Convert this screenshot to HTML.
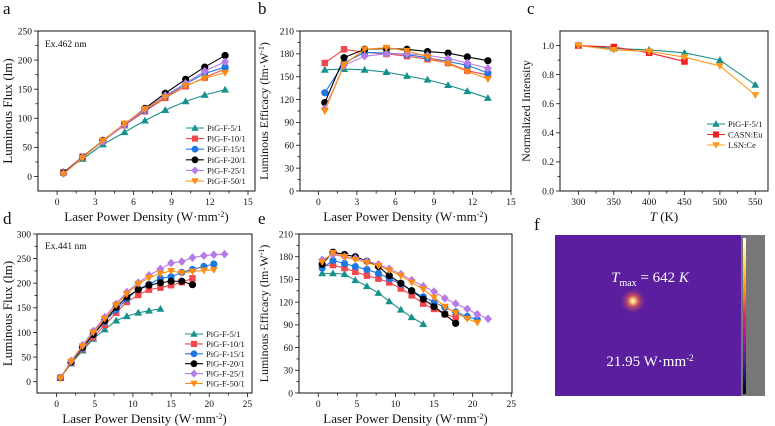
<!DOCTYPE html>
<html><head><meta charset="utf-8">
<style>
html,body{margin:0;padding:0;background:#fff;}
svg{display:block;}
svg text{font-family:"Liberation Serif","DejaVu Serif",serif;}
</style></head>
<body>
<svg id="fig" width="775" height="426" viewBox="0 0 775 426" xmlns="http://www.w3.org/2000/svg" font-family="Liberation Serif, serif">
<rect x="0" y="0" width="775" height="426" fill="#fff"/>
<defs>
<radialGradient id="hot" cx="0.5" cy="0.5" r="0.5">
<stop offset="0" stop-color="#ffffff"/>
<stop offset="0.15" stop-color="#ffd070"/>
<stop offset="0.4" stop-color="#e05a5a" stop-opacity="0.8"/>
<stop offset="1" stop-color="#5b1e9e" stop-opacity="0"/>
</radialGradient>
<linearGradient id="cbar" x1="0" y1="0" x2="0" y2="1">
<stop offset="0" stop-color="#ffffff"/>
<stop offset="0.15" stop-color="#ffe060"/>
<stop offset="0.35" stop-color="#ff8a10"/>
<stop offset="0.5" stop-color="#e8206a"/>
<stop offset="0.65" stop-color="#b010b0"/>
<stop offset="0.8" stop-color="#4a1ea0"/>
<stop offset="0.92" stop-color="#101060"/>
<stop offset="1" stop-color="#000000"/>
</linearGradient>
</defs>
</svg>
<script>
// ---------- data ----------
const seriesNames = ["PiG-F-5/1","PiG-F-10/1","PiG-F-15/1","PiG-F-20/1","PiG-F-25/1","PiG-F-50/1"];
const seriesColors = ["#17918b","#f2474c","#1f77e4","#000000","#b57ce8","#ff8c10"];
const seriesMarkers = ["tri","sq","circ","circ","dia","tridown"];

const xA = [0.5,2.0,3.6,5.3,6.9,8.5,10.1,11.6,13.2];
const fluxA5  = [8,30,55,76,96,114,129,140,149];
const fluxA10 = [7,34,61,88,112,135,155,170,185];
const fluxA15 = [6,33,61,89,114,137,159,177,188];
const fluxA20 = [6,33,62,90,117,143,167,188,208];
const fluxA25 = [5,33,60,89,115,139,160,181,197];
const fluxA50 = [4,32,62,91,116,136,156,169,178];

const effB5  = [159,160,159,156,151,146,139,131,122];
const effB10 = [168,186,182,180,177,173,168,158,152];
const effB15 = [129,168,182,181,179,175,170,165,155];
const effB20 = [116,175,186,187,186,183,181,176,171];
const effB25 = [108,165,177,180,180,178,174,168,161];
const effB50 = [105,166,186,188,184,176,167,157,147];

const tempC = [300,350,400,450,500,550];
const intPiG  = [1.0,0.98,0.97,0.95,0.90,0.73];
const intCASN = [1.0,0.99,0.95,0.89];
const intLSN  = [1.0,0.97,0.96,0.92,0.86,0.66];

const xD = [0.5,1.9,3.4,4.8,6.3,7.8,9.2,10.7,12.1,13.6,15.0,16.4,17.8,19.3,20.6,22.0];
const fluxD5  = [8,37,63,87,106,124,133,140,144,148];
const fluxD10 = [8,38,66,90,115,140,162,176,187,191,196,202,210];
const fluxD15 = [8,39,68,95,122,146,168,188,198,210,213,222,228,234,239];
const fluxD20 = [8,40,70,96,124,151,172,187,196,201,204,204,197];
const fluxD25 = [8,42,74,103,131,158,182,201,216,229,241,244,252,256,258,259];
const fluxD50 = [7,41,72,100,128,156,178,199,211,220,225,221,224,226,227];

const effE5  = [158,158,157,149,141,132,121,110,100,91];
const effE10 = [168,169,165,160,155,151,146,138,129,118,111,104,100];
const effE15 = [165,175,171,167,163,158,151,144,135,127,120,113,107,101,97];
const effE20 = [170,186,183,180,174,167,155,145,135,124,114,104,92];
const effE25 = [176,183,180,178,174,170,164,157,149,141,134,125,118,111,104,98];
const effE50 = [173,185,180,176,172,168,162,155,146,137,126,114,106,98,93];

const ticksA_x = [0,3,6,9,12,15];
const ticksA_y = [0,50,100,150,200,250];
const ticksB_y = [0,30,60,90,120,150,180,210];
const ticksC_x = [300,350,400,450,500,550];
const ticksC_y = [0.0,0.2,0.4,0.6,0.8,1.0];
const ticksD_x = [0,5,10,15,20,25];
const ticksD_y = [0,50,100,150,200,250,300];

// ---------- helpers ----------
const svg = document.getElementById('fig');
const NS = "http://www.w3.org/2000/svg";
function mk(tag, attrs, parent){
  const e = document.createElementNS(NS, tag);
  for (const k in attrs) e.setAttribute(k, attrs[k]);
  if (tag==='text') e.setAttribute('font-family','Liberation Serif, serif');
  (parent||svg).appendChild(e);
  return e;
}
function marker(g, type, x, y, color, r){
  let e;
  if (type==="circ") e = mk('circle',{cx:x,cy:y,r:r,fill:color},g);
  else if (type==="sq") e = mk('rect',{x:x-r*0.9,y:y-r*0.9,width:r*1.8,height:r*1.8,fill:color},g);
  else if (type==="tri") e = mk('polygon',{points:`${x},${y-r*1.1} ${x-r*1.1},${y+r*0.8} ${x+r*1.1},${y+r*0.8}`,fill:color},g);
  else if (type==="tridown") e = mk('polygon',{points:`${x},${y+r*1.1} ${x-r*1.1},${y-r*0.8} ${x+r*1.1},${y-r*0.8}`,fill:color},g);
  else e = mk('polygon',{points:`${x},${y-r*1.2} ${x+r*1.1},${y} ${x},${y+r*1.2} ${x-r*1.1},${y}`,fill:color},g);
  
  
  return e;
}

function panel(cfg){
  const g = mk('g',{});
  
  
  const {x0,y0,x1,y1,xmin,xmax,ymin,ymax} = cfg;
  const sx = v => x0 + (v-xmin)/(xmax-xmin)*(x1-x0);
  const sy = v => y1 - (v-ymin)/(ymax-ymin)*(y1-y0);
  const L = mk('text',{x:cfg.lx,y:cfg.ly,'font-size':17,fill:'#111'},g);
  L.textContent = cfg.letter;
  
  
  const xt = cfg.xticks;
  const xs = xt[1]-xt[0];
  for (let i=0;i<xt.length;i++){
    const px = sx(xt[i]);
    const t = mk('line',{x1:px,y1:y1,x2:px,y2:y1+4,stroke:'#111','stroke-width':0.8},g);
    
    
    const tl = mk('text',{x:px,y:y1+14,'font-size':9.5,'text-anchor':'middle',fill:'#111'},g);
    tl.textContent = xt[i];
    
    
    const mv = xt[i]+xs/2;
    if (mv<xmax){
      const m = mk('line',{x1:sx(mv),y1:y1,x2:sx(mv),y2:y1+2.5,stroke:'#111','stroke-width':0.8},g);
      
      
    }
  }
  const yt = cfg.yticks;
  const ys = yt[1]-yt[0];
  for (let i=0;i<yt.length;i++){
    const py = sy(yt[i]);
    const t = mk('line',{x1:x0-4,y1:py,x2:x0,y2:py,stroke:'#111','stroke-width':0.8},g);
    
    
    const tl = mk('text',{x:x0-6,y:py+3.3,'font-size':9.5,'text-anchor':'end',fill:'#111'},g);
    tl.textContent = cfg.yfmt ? cfg.yfmt(yt[i]) : yt[i];
    
    
    const mv = yt[i]+ys/2;
    if (mv<ymax){
      const m = mk('line',{x1:x0-2.5,y1:sy(mv),x2:x0,y2:sy(mv),stroke:'#111','stroke-width':0.8},g);
      
      
    }
  }
  const fr = mk('rect',{x:x0,y:y0,width:x1-x0,height:y1-y0,fill:'none',stroke:'#111','stroke-width':1},g);
  
  
  const xtl = mk('text',{x:(x0+x1)/2,y:y1+30,'font-size':13,'text-anchor':'middle',fill:'#111'},g);
  xtl.innerHTML = cfg.xtitle;
  
  
  const ytl = mk('text',{x:0,y:0,'font-size':cfg.ytsize||13,'text-anchor':'middle',fill:'#111',transform:`translate(${cfg.ytx},${(y0+y1)/2}) rotate(-90)`},g);
  ytl.innerHTML = cfg.ytitle;
  
  
  cfg.series.forEach((s,si)=>{
    const sg = mk('g',{},g);
    
    
    const pts = s.vals.map((v,i)=>sx(s.xs[i])+','+sy(v)).join(' ');
    const pl = mk('polyline',{points:pts,fill:'none',stroke:s.color,'stroke-width':1.1},sg);
    
    
    s.vals.forEach((v,i)=>marker(sg,s.marker,sx(s.xs[i]),sy(v),s.color,cfg.mr||3.6));
  });
  if (cfg.legend){
    const lg = mk('g',{},g);
    
    
    cfg.series.forEach((s,i)=>{
      const ly = cfg.legend.y + i*cfg.legend.dy;
      const eg = mk('g',{},lg);
      
      
      mk('line',{x1:cfg.legend.x,y1:ly,x2:cfg.legend.x+18,y2:ly,stroke:s.color,'stroke-width':1.1},eg);
      marker(eg,s.marker,cfg.legend.x+9,ly,s.color,3.4);
      const t = mk('text',{x:cfg.legend.x+21,y:ly+3,'font-size':8.5,fill:'#111'},eg);
      t.textContent = s.name;
      
      
    });
  }
  if (cfg.note){
    const n = mk('text',{x:cfg.note.x,y:cfg.note.y,'font-size':9.5,fill:'#111'},g);
    n.textContent = cfg.note.text;
    
    
  }
}
function six(xs, arrs){
  return arrs.map((v,i)=>({name:seriesNames[i],color:seriesColors[i],marker:seriesMarkers[i],xs:xs,vals:v}));
}
const lpd = 'Laser Power Density (W·mm<tspan dy="-4" font-size="8">-2</tspan><tspan dy="4">)</tspan>';
const eff = 'Luminous Efficacy (lm·W<tspan dy="-4" font-size="8">-1</tspan><tspan dy="4">)</tspan>';

panel({name:'panel-a',letter:'a',lx:3,ly:14,x0:38,y0:31,x1:255,y1:191,xmin:-1.5,xmax:15.55,ymin:-25,ymax:250,
  xticks:ticksA_x,yticks:ticksA_y,xtitle:lpd,ytitle:'Luminous Flux (lm)',ytx:12,
  series:six(xA,[fluxA5,fluxA10,fluxA15,fluxA20,fluxA25,fluxA50]),
  legend:{x:186,y:128,dy:10.6},note:{x:45,y:47,text:'Ex.462 nm'}});
panel({name:'panel-b',letter:'b',lx:258,ly:14,x0:300,y0:31,x1:511,y1:191,xmin:-1.43,xmax:15,ymin:0,ymax:210,
  xticks:ticksA_x,yticks:ticksB_y,xtitle:lpd,ytitle:eff,ytx:268,ytsize:12,
  series:six(xA,[effB5,effB10,effB15,effB20,effB25,effB50])});
panel({name:'panel-c',letter:'c',lx:527,ly:14,x0:560,y0:31,x1:768,y1:191,xmin:274,xmax:568,ymin:0,ymax:1.1,
  xticks:ticksC_x,yticks:ticksC_y,yfmt:v=>v.toFixed(1),
  xtitle:'<tspan font-style="italic">T</tspan> (K)',ytitle:'Normalized Intensity',ytx:530,ytsize:12,
  series:[{name:'PiG-F-5/1',color:seriesColors[0],marker:'tri',xs:tempC,vals:intPiG},
          {name:'CASN:Eu',color:'#f01e28',marker:'sq',xs:tempC,vals:intCASN},
          {name:'LSN:Ce',color:'#ff9a1a',marker:'tridown',xs:tempC,vals:intLSN}],
  legend:{x:707,y:124,dy:10.5}});
panel({name:'panel-d',letter:'d',lx:3,ly:224,x0:37,y0:234,x1:252,y1:393,xmin:-2.57,xmax:25.6,ymin:-23,ymax:300,
  xticks:ticksD_x,yticks:ticksD_y,xtitle:lpd,ytitle:'Luminous Flux (lm)',ytx:12,
  series:six(xD,[fluxD5,fluxD10,fluxD15,fluxD20,fluxD25,fluxD50]),
  legend:{x:185,y:334,dy:9.9},note:{x:45,y:249,text:'Ex.441 nm'}});
panel({name:'panel-e',letter:'e',lx:258,ly:224,x0:299,y0:234,x1:512,y1:393,xmin:-2.5,xmax:25.1,ymin:0,ymax:210,
  xticks:ticksD_x,yticks:ticksB_y,xtitle:lpd,ytitle:eff,ytx:268,ytsize:12,
  series:six(xD,[effE5,effE10,effE15,effE20,effE25,effE50])});

const fg = mk('g',{});


const fl = mk('text',{x:534,y:230,'font-size':17,fill:'#111'},fg);
fl.textContent = 'f';


const img = mk('rect',{x:555,y:235,width:186,height:161,fill:'#5a1e9e'},fg);


const spot = mk('circle',{cx:633,cy:301,r:14,fill:'url(#hot)'},fg);


const cb = mk('rect',{x:741,y:235,width:24,height:161,fill:'#777'},fg);


const cs = mk('rect',{x:743,y:238,width:3,height:156,fill:'url(#cbar)'},fg);


const tm = mk('text',{x:650,y:282,'font-size':15,'text-anchor':'middle',fill:'#fff'},fg);
tm.innerHTML = '<tspan font-style="italic">T</tspan><tspan dy="4" font-size="10">max</tspan><tspan dy="-4"> = 642 </tspan><tspan font-style="italic">K</tspan>';


const pd = mk('text',{x:650,y:366,'font-size':15,'text-anchor':'middle',fill:'#fff'},fg);
pd.innerHTML = '21.95 W·mm<tspan dy="-5" font-size="9">-2</tspan>';


</script>
</body></html>
